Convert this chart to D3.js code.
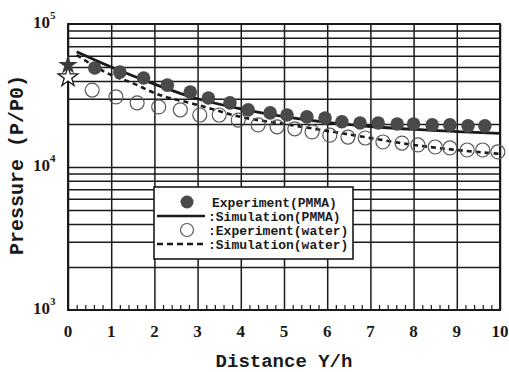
<!DOCTYPE html>
<html>
<head>
<meta charset="utf-8">
<script src="https://cdn.jsdelivr.net/npm/d3@7"></script>
<style>
  body { margin: 0; background: #fff; }
  svg { display: block; }
</style>
</head>
<body>
<div id="chart"></div>
<script>
// distance Y/h and pressure P/P0
var pmmaExpX = [0.62, 1.2, 1.75, 2.3, 2.83, 3.25, 3.75, 4.17, 4.68, 5.07, 5.53, 5.95, 6.34, 6.76, 7.18, 7.62, 8.0, 8.43, 8.84, 9.26, 9.65];
var pmmaExpY = [49200, 46100, 41900, 37400, 33400, 30400, 28100, 25100, 23900, 23100, 22400, 22000, 20700, 20300, 20300, 20000, 20000, 19700, 19700, 19400, 19400];

var waterExpX = [0.56, 1.11, 1.6, 2.1, 2.6, 3.05, 3.5, 3.94, 4.4, 4.84, 5.25, 5.65, 6.06, 6.48, 6.88, 7.29, 7.73, 8.1, 8.5, 8.84, 9.24, 9.6, 9.95];
var waterExpY = [34500, 30900, 28100, 26300, 25100, 23100, 23100, 21300, 19700, 19100, 18500, 17600, 16700, 16200, 15950, 14960, 14700, 14270, 13800, 13600, 13150, 13150, 12740];

var pmmaSimX = [0.2, 1, 2, 3, 4, 5, 6, 7, 8, 9, 10];
var pmmaSimY = [64000, 50000, 38000, 30000, 25500, 22500, 20500, 19200, 18300, 17700, 17200];

var waterSimX = [0.2, 1, 1.5, 2, 3, 4, 5, 6, 7, 8, 9, 10];
var waterSimY = [60700, 44000, 38600, 32900, 27200, 22400, 20000, 17900, 15950, 14270, 13150, 12340];

// values at Y/h = 0 (stars)
var starY = [51600, 42500];

var xTicks = [0, 1, 2, 3, 4, 5, 6, 7, 8, 9, 10];
var yDecades = [1e3, 1e4, 1e5];
var yExponents = ['3', '4', '5'];

var legendLabels = ['Experiment(PMMA)', ':Simulation(PMMA)', ':Experiment(water)', ':Simulation(water)'];

var width = 509, height = 372;
var margin = {left: 68, right: 9, top: 24, bottom: 62};
var plotW = width - margin.left - margin.right,
    plotH = height - margin.top - margin.bottom;

var svg = d3.select('#chart').append('svg')
        .attr('width', width)
        .attr('height', height);

var x = d3.scaleLinear().domain([0, 10]).range([margin.left, margin.left + plotW]);
var y = d3.scaleLog().domain([1e3, 1e5]).range([margin.top + plotH, margin.top]);

var ink = '#1a1a1a';
var serif = '"Liberation Serif", "DejaVu Serif", serif';
var mono = '"Liberation Mono", "DejaVu Sans Mono", monospace';

// horizontal grid: every 1..9 x decade
var minorY = [];
[1e3, 1e4].forEach(function(d){
    for (var k = 2; k <= 9; k++) minorY.push(d * k);
});

svg.append('g')
        .attr('transform', 'translate(' + margin.left + ',0)')
        .call(d3.axisLeft(y).tickValues(minorY.concat([1e4])).tickSize(-plotW).tickFormat(''))
        .call(function(g){
            g.select('.domain').remove();
            g.selectAll('line').attr('stroke', ink).attr('stroke-width', 1.5);
        });

// vertical grid
svg.append('g')
        .attr('transform', 'translate(0,' + (margin.top + plotH) + ')')
        .call(d3.axisBottom(x).tickValues(xTicks).tickSize(-plotH).tickFormat(''))
        .call(function(g){
            g.select('.domain').remove();
            g.selectAll('line').attr('stroke', ink).attr('stroke-width', 1.5);
        });

// small inward ticks on the bottom axis
var minorX = d3.range(0, 50).map(function(i){ return i * 0.2; }).filter(function(v){ return Math.abs(v - Math.round(v)) > 0.01; });
svg.append('g')
        .attr('transform', 'translate(0,' + (margin.top + plotH) + ')')
        .call(d3.axisBottom(x).tickValues(minorX).tickSize(-5).tickFormat(''))
        .call(function(g){
            g.select('.domain').remove();
            g.selectAll('line').attr('stroke', ink).attr('stroke-width', 1.2);
        });

// frame
svg.append('rect')
        .attr('x', margin.left)
        .attr('y', margin.top)
        .attr('width', plotW)
        .attr('height', plotH)
        .attr('fill', 'none')
        .attr('stroke', ink)
        .attr('stroke-width', 2);

// x tick labels
svg.append('g').selectAll('text')
        .data(xTicks)
        .enter().append('text')
        .attr('x', function(d){ return x(d); })
        .attr('y', margin.top + plotH + 27)
        .attr('text-anchor', 'middle')
        .style('font', 'bold 17px ' + serif)
        .attr('fill', ink)
        .text(function(d){ return d; });

// y tick labels 10^n
var yl = svg.append('g').selectAll('text')
        .data(yDecades)
        .enter().append('text')
        .attr('x', 33)
        .attr('y', function(d){ return y(d) + 4; })
        .style('font', 'bold 17px ' + serif)
        .attr('fill', ink);
yl.append('tspan').text('10');
yl.append('tspan')
        .attr('dy', -9)
        .style('font-size', '11px')
        .text(function(d, i){ return yExponents[i]; });

// axis titles
svg.append('text')
        .attr('x', margin.left + plotW / 2)
        .attr('y', 367)
        .attr('text-anchor', 'middle')
        .style('font', 'bold 19px ' + mono)
        .attr('fill', ink)
        .text('Distance Y/h');

svg.append('text')
        .attr('transform', 'translate(23,' + 165 + ')rotate(-90)')
        .attr('text-anchor', 'middle')
        .style('font', 'bold 20px ' + mono)
        .attr('fill', ink)
        .text('Pressure (P/P0)');

// simulation curves
var line = d3.line()
        .x(function(d){ return x(d[0]); })
        .y(function(d){ return y(d[1]); })
        .curve(d3.curveMonotoneX);

svg.append('path')
        .datum(d3.zip(waterSimX, waterSimY))
        .attr('d', line)
        .attr('fill', 'none')
        .attr('stroke', ink)
        .attr('stroke-width', 2.6)
        .attr('stroke-dasharray', '5,4');

svg.append('path')
        .datum(d3.zip(pmmaSimX, pmmaSimY))
        .attr('d', line)
        .attr('fill', 'none')
        .attr('stroke', ink)
        .attr('stroke-width', 2.8);

// experiments
svg.append('g').selectAll('circle')
        .data(d3.zip(waterExpX, waterExpY))
        .enter().append('circle')
        .attr('cx', function(d){ return x(d[0]); })
        .attr('cy', function(d){ return y(d[1]); })
        .attr('r', 7)
        .attr('fill', 'none')
        .attr('stroke', '#5a5a5a')
        .attr('stroke-width', 1.2);

svg.append('g').selectAll('circle')
        .data(d3.zip(pmmaExpX, pmmaExpY))
        .enter().append('circle')
        .attr('cx', function(d){ return x(d[0]); })
        .attr('cy', function(d){ return y(d[1]); })
        .attr('r', 6.8)
        .attr('fill', '#4a4a4a');

// stars at the origin
var star = d3.symbol().type(d3.symbolStar).size(120);
svg.append('path')
        .attr('d', star)
        .attr('transform', 'translate(' + x(0) + ',' + y(starY[1]) + ')')
        .attr('fill', '#fff')
        .attr('stroke', ink)
        .attr('stroke-width', 1.3);
svg.append('path')
        .attr('d', star)
        .attr('transform', 'translate(' + x(0) + ',' + y(starY[0]) + ')')
        .attr('fill', '#3a3a3a');

// legend
var lg = svg.append('g').attr('transform', 'translate(154,187)');
lg.append('rect')
        .attr('width', 199)
        .attr('height', 72)
        .attr('fill', '#fff')
        .attr('stroke', ink)
        .attr('stroke-width', 1.6);

var rowY = [15, 29, 43, 57];
lg.append('circle').attr('cx', 33).attr('cy', rowY[0]).attr('r', 6.5).attr('fill', '#4a4a4a');
lg.append('line').attr('x1', 3).attr('x2', 51).attr('y1', rowY[1]).attr('y2', rowY[1])
        .attr('stroke', ink).attr('stroke-width', 2.4);
lg.append('circle').attr('cx', 33).attr('cy', rowY[2]).attr('r', 6.5)
        .attr('fill', '#fff').attr('stroke', '#5a5a5a').attr('stroke-width', 1.2);
lg.append('line').attr('x1', 3).attr('x2', 51).attr('y1', rowY[3]).attr('y2', rowY[3])
        .attr('stroke', ink).attr('stroke-width', 2.4).attr('stroke-dasharray', '6,4');

lg.selectAll('text.lab')
        .data(legendLabels)
        .enter().append('text')
        .attr('class', 'lab')
        .attr('x', function(d, i){ return i === 0 ? 58 : 54; })
        .attr('y', function(d, i){ return rowY[i] + 4.5; })
        .style('font', 'bold 13px ' + mono)
        .attr('fill', ink)
        .text(function(d){ return d; });
</script>
</body>
</html>
